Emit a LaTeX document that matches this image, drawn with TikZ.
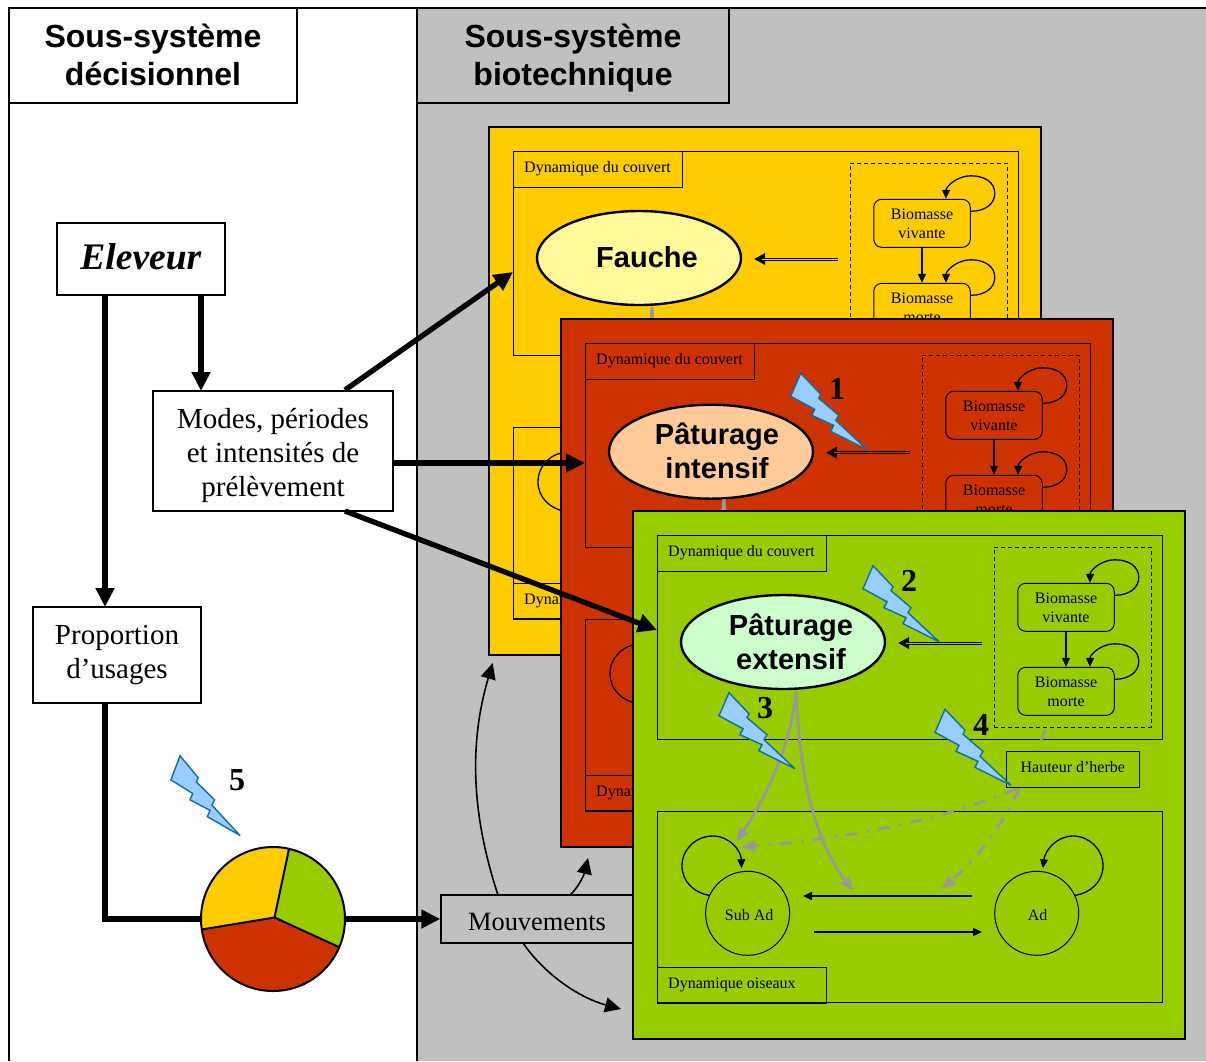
\documentclass[tikz,border=0pt]{standalone}
\usepackage{fontspec}
\setmainfont{Liberation Serif}
\setsansfont{Liberation Sans}
\usetikzlibrary{arrows.meta,shapes.geometric}
\definecolor{cgray}{HTML}{C0C0C0}
\definecolor{cyel}{HTML}{FFCC00}
\definecolor{cred}{HTML}{CC3300}
\definecolor{cgre}{HTML}{99CC00}
\definecolor{cbolt}{HTML}{99CCFF}
\definecolor{cboltb}{HTML}{0F6FA0}
\definecolor{cline}{HTML}{999999}
\tikzset{
  boxn/.style={draw=black,line width=1.5pt,inner sep=0pt,align=center},
  titlebox/.style={boxn,minimum height=95pt},
  titletext/.style={font=\sffamily\bfseries\fontsize{32}{38}\selectfont,align=center,inner sep=0pt},
  mainbox/.style={boxn,fill=white},
  maintext/.style={font=\fontsize{#1}{34}\selectfont,align=center,inner sep=0pt},
  thick arrow/.style={line width=5.3pt,-{Triangle[length=19pt,width=18pt]}},
  thick line/.style={line width=5.3pt},
  mid arrow/.style={line width=1.6pt,-{Triangle[length=16pt,width=15pt]}},
  small arrow/.style={line width=1.3pt,-{Triangle[length=9pt,width=8pt]}},
  inner/.style={draw=black,line width=1pt,inner sep=0pt,font=\fontsize{16}{19}\selectfont},
  smalltext/.style={inner sep=0pt,font=\fontsize{16}{19}\selectfont},
  biobox/.style={inner,align=center,rounded corners=8pt,minimum width=96.5pt,minimum height=48pt},
  labbox/.style={inner,minimum width=169pt,minimum height=36pt},
  bird/.style={circle,draw=black,line width=1pt,inner sep=0pt,minimum size=84pt},
  greyc/.style={draw=cline,line width=2.8pt,-{Triangle[length=14pt,width=11pt]}},
  dashdotgrey/.style={dash pattern=on 12pt off 9pt on 2.5pt off 9.5pt},
  greyd/.style={greyc,dashdotgrey},
  boltst/.style={draw=cboltb,fill=cbolt,line width=1.4pt,miter limit=3},
  number/.style={font=\bfseries\fontsize{32}{36}\selectfont,inner sep=0pt},
  bigtext/.style={font=\sffamily\bfseries\fontsize{29}{34}\selectfont,align=center,inner sep=0pt},
}
\newcommand{\boltshape}[1]{\draw[boltst,#1] (0,0)--(20,21)--(18,25)--(38,42)--(35,47)--(66,76)--(30,58)--(33,52)--(11,42)--(14,36)--(-10,23)--cycle;}
\newcommand{\elldy}{0}
\newcommand{\elltdy}{0}
\newcommand{\ellipsetext}{}
\newcommand{\panel}[6]{%
\begin{scope}[shift={(#2,#3)}]
  \node[draw=black,line width=2pt,fill=#4,minimum width=552pt,minimum height=528pt,inner sep=0pt] (#1panel) at (909,775) {};
  \node[inner,minimum width=505pt,minimum height=204pt] (#1couvert) at (910,637.7) {};
  \node[labbox] (#1lab) at (742,553.7) {};
  \node[smalltext,anchor=west] (#1labt) at (668,553) {Dynamique du couvert};
  \node[inner,dash pattern=on 4pt off 3pt,minimum width=157pt,minimum height=180pt] (#1dash) at (1072.5,637) {};
  \node[biobox] (#1vive) at (1066,607.3) {Biomasse\\vivante};
  \node[biobox] (#1morte) at (1066,691.3) {Biomasse\\morte};
  \draw[small arrow] (#1vive) -- (#1morte);
  \foreach \b in {#1vive,#1morte}{
    \draw[small arrow] ([yshift=12pt]\b.east) .. controls +(14,0) and +(0,11) .. ++(24,-18) .. controls +(0,-11) and +(14,0) .. ++(-24,-17.5) .. controls +(-14,0) and +(0,-12) .. ([xshift=24pt]\b.north);
  }
  \node[ellipse,draw=black,line width=2.4pt,fill=#5,minimum width=204pt,minimum height=94pt,inner sep=0pt] (#1ell) at (783,642+\elldy) {};
  \node[bigtext] (#1elt) at (#6,642+\elltdy) {\ellipsetext};
  \coordinate (#1da) at (982,643+\elldy);
  \coordinate (#1db) at (898,643+\elldy);
  \coordinate (#1dc) at (906,643+\elldy);
  \draw[line width=3pt,{Triangle[length=11pt,width=11pt]}-] (#1db) -- (#1da);
  \draw[line width=1pt,draw=#4] (#1dc) -- (#1da);
  \node[inner,minimum width=132.5pt,minimum height=36pt] (#1haut) at (1072.8,769.5) {};
  \node[smalltext] (#1hautt) at (1072.8,767) {Hauteur d’herbe};
  \node[inner,minimum width=505pt,minimum height=191pt] (#1oiseaux) at (910,907) {};
  \node[labbox] (#1labo) at (742,985) {};
  \node[smalltext,anchor=west] (#1labot) at (668,985) {Dynamique oiseaux};
  \node[bird] (#1sub) at (747.6,913.3) {};
  \node[smalltext] (#1subt) at (749.1,915) {Sub Ad};
  \node[bird] (#1ad) at (1036.7,913.3) {};
  \node[smalltext] (#1adt) at (1037.7,915) {Ad};
  \draw[small arrow,shorten >=3pt] (#1sub.155) .. controls (695,893) and (682,882) .. (682,866) .. controls (682,849) and (696,836) .. (713,836) .. controls (729,836) and (741,850) .. (#1sub.98);
  \draw[small arrow,shorten >=3pt] (#1ad.25) .. controls (1090,893) and (1103,882) .. (1103,866) .. controls (1103,849) and (1089,836) .. (1073,836) .. controls (1057,836) and (1045,850) .. (#1ad.82);
  \coordinate (#1ta) at (972,896);
  \coordinate (#1tb) at (803,896);
  \coordinate (#1tc) at (814,932);
  \coordinate (#1td) at (982,932);
  \draw[small arrow] (#1ta) -- (#1tb);
  \draw[small arrow] (#1tc) -- (#1td);
  \coordinate (#1st) at (796,691);
  \draw[greyc] (#1st) .. controls (792,740) and (770,790) .. (736.5,842);
  \draw[greyc] (#1st) .. controls (800,780) and (815,840) .. (853,891);
  \coordinate (#1sa) at (1045,730);
  \coordinate (#1sb) at (1038,750);
  \draw[draw=cline,line width=2.8pt,dashdotgrey] (#1sa) -- (#1sb);
  \coordinate (#1ha) at (1016,789);
  \coordinate (#1hb) at (1019,789);
  \draw[greyd] (#1ha) .. controls (930,825) and (830,840) .. (741,847);
  \draw[greyd] (#1hb) .. controls (1000,830) and (975,860) .. (941.5,889);
\end{scope}}
\begin{document}
\begin{tikzpicture}[x=1pt,y=-1pt]
\useasboundingbox (0,0) rectangle (1206,1061);
\fill[white] (0,0) rectangle (1206,1061);
\fill[cgray] (417,8) rectangle (1206,1061);
\draw[line width=2pt] (9,1061) -- (9,8) -- (1206,8);
\draw[line width=2pt] (417,8) -- (417,1061);
\node[titlebox,fill=white,minimum width=288pt] (tleft) at (153,55.5) {};
\node[titletext] (tleftt) at (153,54.5) {Sous-système\\décisionnel};
\node[titlebox,fill=cgray,minimum width=312pt] (tright) at (573,55.5) {};
\node[titletext] (trightt) at (573,58.5) {Sous-système\\biotechnique};
\node[mainbox,minimum width=168pt,minimum height=72pt] (eleveur) at (141,259) {};
\node[maintext=37.5] (eleveurt) at (141,257) {\textit{\textbf{Eleveur}}};
\node[mainbox,minimum width=240pt,minimum height=120pt] (modes) at (273,451) {};
\node[maintext=29] (modest) at (273,455) {Modes, périodes\\et intensités de\\prélèvement};
\node[mainbox,minimum width=168pt,minimum height=96pt] (prop) at (117,655) {};
\node[maintext=29] (propt) at (117,655.5) {Proportion\\d’usages};
\node[boxn,fill=cgray,minimum width=192pt,minimum height=48pt] (mouv) at (537,919) {};
\node[maintext=26.4] (mouvt) at (537,922) {Mouvements};
\renewcommand{\ellipsetext}{Fauche}
\renewcommand{\elltdy}{-1}
\panel{y}{-144}{-384}{cyel}{yellow!40!white}{791}
\renewcommand{\elldy}{1.7}
\renewcommand{\elltdy}{.7}
\renewcommand{\ellipsetext}{Pâturage\\intensif}
\panel{r}{-72}{-192}{cred}{orange!40!white}{789}
\renewcommand{\elldy}{0}
\renewcommand{\elltdy}{0}
\boltshape{shift={(800.7,373.3)}}
\node[number] (n1) at (837,389) {1};
\renewcommand{\ellipsetext}{Pâturage\\extensif}
\panel{g}{0}{0}{cgre}{green!20!white}{791}
\boltshape{shift={(873,565.7)}}
\node[number] (n2) at (909,581) {2};
\boltshape{shift={(729,692.7)}}
\node[number] (n3) at (765,708) {3};
\boltshape{shift={(945,709.3)}}
\node[number] (n4) at (981,725) {4};
\boltshape{shift={(180,755.7)},xscale=.91,yscale=1.05}
\node[number] (n5) at (237,780) {5};
% pie
\node[circle,minimum size=144pt,inner sep=0pt] (pie) at (273,919) {};
\coordinate (pc) at (274.5,917.5);
\begin{scope}
  \clip (pie.center) circle[radius=72pt];
  \fill[cred] (pc) -- (400,975) -- (400,1010) -- (150,1010) -- (150,938) -- cycle;
  \fill[cyel] (pc) -- (150,938) -- (150,800) -- (299.4,800) -- cycle;
  \fill[cgre] (pc) -- (299.4,800) -- (400,800) -- (400,975) -- cycle;
  \draw[line width=2pt] (150,938) -- (pc) -- (299.4,800) (pc) -- (400,975);
\end{scope}
\draw[line width=2pt] (pie.center) circle[radius=72pt];
% left connectors
\coordinate (el1) at (105,295);
\coordinate (el2) at (201,295);
\coordinate (pr1) at (105,607);
\coordinate (mo1) at (201,391);
\coordinate (pr2) at (105,703);
\coordinate (pr3) at (105,919);
\draw[thick arrow] (el1) -- (pr1);
\draw[thick arrow] (el2) -- (mo1);
\draw[thick line] (pr2) -- (pr3) -- (pie.west);
\draw[thick arrow] (pie.east) -- (mouv.west);
% big arrows
\coordinate (ma) at (345,390);
\coordinate (mb) at (393,463);
\coordinate (mc) at (345,511);
\coordinate (ya) at (513,272);
\coordinate (ra) at (585,463);
\coordinate (ga) at (657,630);
\draw[thick arrow] (ma) -- (ya);
\draw[thick arrow] (mb) -- (ra);
\draw[thick arrow] (mc) -- (ga);
% movements
\coordinate (ma1) at (498,895);
\coordinate (ma2) at (570,895);
\coordinate (ma3) at (523,943);
\coordinate (mt1) at (492.7,663);
\coordinate (mt2) at (588,858);
\coordinate (mt3) at (621,1009);
\draw[mid arrow] (ma1) .. controls (470,810) and (470,740) .. (mt1);
\draw[mid arrow] (ma2) .. controls (578,888) and (584,875) .. (mt2);
\draw[mid arrow] (ma3) .. controls (545,975) and (580,998) .. (mt3);
\end{tikzpicture}
\end{document}
